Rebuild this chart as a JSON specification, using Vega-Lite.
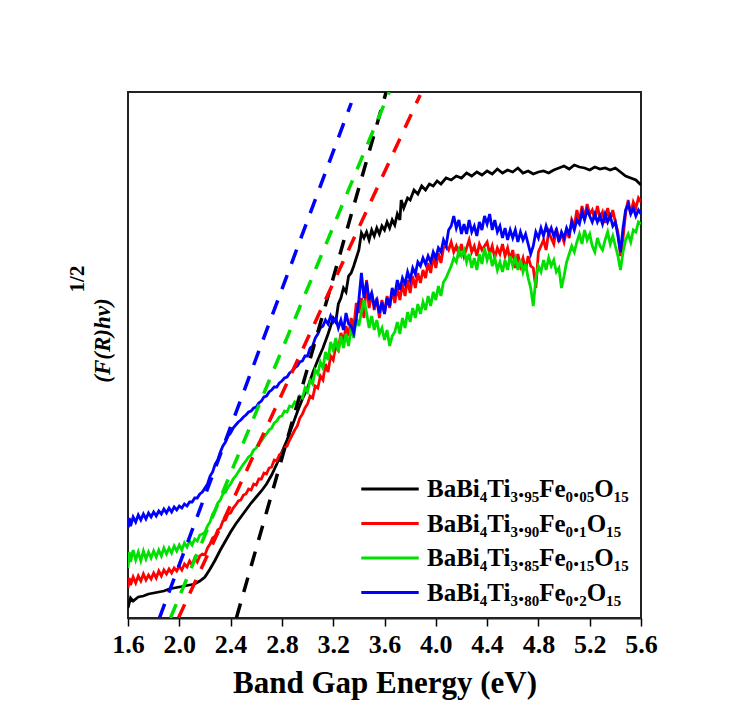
{
  "$schema": "https://vega.github.io/schema/vega-lite/v6.json",
  "width": 513,
  "height": 526,
  "autosize": "none",
  "padding": {"left": 128, "top": 92, "right": 115, "bottom": 86},
  "background": "white",
  "config": {"view": {"stroke": "#222", "strokeWidth": 2}, "font": "Liberation Serif"},
  "title": {"text": "1/2", "orient": "left", "anchor": "middle", "frame": "group", "dx": 76, "offset": 3, "font": "Liberation Serif", "fontSize": 21, "fontWeight": "bold", "color": "black"},
  "datasets": {
    "curves": [
      {"s":"A","x":1.60,"y":10},{"s":"A","x":1.62,"y":20},{"s":"A","x":1.64,"y":17},{"s":"A","x":1.68,"y":21},{"s":"A","x":1.72,"y":22},{"s":"A","x":1.76,"y":24},{"s":"A","x":1.80,"y":25},{"s":"A","x":1.84,"y":26},{"s":"A","x":1.88,"y":27},{"s":"A","x":1.92,"y":29},{"s":"A","x":1.96,"y":30},{"s":"A","x":2.00,"y":31},{"s":"A","x":2.04,"y":32},{"s":"A","x":2.08,"y":33},{"s":"A","x":2.12,"y":34},{"s":"A","x":2.16,"y":37},{"s":"A","x":2.20,"y":41},{"s":"A","x":2.24,"y":49},{"s":"A","x":2.28,"y":58},{"s":"A","x":2.32,"y":68},{"s":"A","x":2.36,"y":77},{"s":"A","x":2.40,"y":86},{"s":"A","x":2.44,"y":94},{"s":"A","x":2.48,"y":101},{"s":"A","x":2.52,"y":108},{"s":"A","x":2.56,"y":115},{"s":"A","x":2.60,"y":121},{"s":"A","x":2.64,"y":127},{"s":"A","x":2.68,"y":134},{"s":"A","x":2.72,"y":143},{"s":"A","x":2.76,"y":154},{"s":"A","x":2.80,"y":166},{"s":"A","x":2.84,"y":178},{"s":"A","x":2.88,"y":192},{"s":"A","x":2.92,"y":206},{"s":"A","x":2.96,"y":219},{"s":"A","x":3.00,"y":230},{"s":"A","x":3.04,"y":245},{"s":"A","x":3.08,"y":258},{"s":"A","x":3.12,"y":270},{"s":"A","x":3.16,"y":284},{"s":"A","x":3.20,"y":300},{"s":"A","x":3.22,"y":296},{"s":"A","x":3.24,"y":314},{"s":"A","x":3.26,"y":320},{"s":"A","x":3.28,"y":330},{"s":"A","x":3.30,"y":326},{"s":"A","x":3.32,"y":342},{"s":"A","x":3.34,"y":345},{"s":"A","x":3.36,"y":352},{"s":"A","x":3.38,"y":360},{"s":"A","x":3.40,"y":368},{"s":"A","x":3.42,"y":385},{"s":"A","x":3.44,"y":380},{"s":"A","x":3.46,"y":386},{"s":"A","x":3.48,"y":378},{"s":"A","x":3.50,"y":388},{"s":"A","x":3.52,"y":382},{"s":"A","x":3.54,"y":390},{"s":"A","x":3.56,"y":384},{"s":"A","x":3.58,"y":392},{"s":"A","x":3.60,"y":388},{"s":"A","x":3.62,"y":396},{"s":"A","x":3.64,"y":390},{"s":"A","x":3.66,"y":398},{"s":"A","x":3.68,"y":393},{"s":"A","x":3.70,"y":404},{"s":"A","x":3.72,"y":398},{"s":"A","x":3.73,"y":418},{"s":"A","x":3.75,"y":410},{"s":"A","x":3.78,"y":420},{"s":"A","x":3.80,"y":418},{"s":"A","x":3.83,"y":428},{"s":"A","x":3.86,"y":424},{"s":"A","x":3.89,"y":432},{"s":"A","x":3.92,"y":428},{"s":"A","x":3.95,"y":434},{"s":"A","x":3.98,"y":432},{"s":"A","x":4.01,"y":437},{"s":"A","x":4.04,"y":434},{"s":"A","x":4.08,"y":440},{"s":"A","x":4.12,"y":438},{"s":"A","x":4.16,"y":442},{"s":"A","x":4.20,"y":440},{"s":"A","x":4.24,"y":445},{"s":"A","x":4.28,"y":442},{"s":"A","x":4.32,"y":446},{"s":"A","x":4.36,"y":443},{"s":"A","x":4.40,"y":447},{"s":"A","x":4.44,"y":444},{"s":"A","x":4.48,"y":449},{"s":"A","x":4.52,"y":445},{"s":"A","x":4.56,"y":448},{"s":"A","x":4.60,"y":446},{"s":"A","x":4.64,"y":450},{"s":"A","x":4.68,"y":445},{"s":"A","x":4.72,"y":447},{"s":"A","x":4.76,"y":444},{"s":"A","x":4.80,"y":446},{"s":"A","x":4.84,"y":447},{"s":"A","x":4.88,"y":445},{"s":"A","x":4.92,"y":448},{"s":"A","x":4.96,"y":450},{"s":"A","x":5.00,"y":452},{"s":"A","x":5.04,"y":449},{"s":"A","x":5.08,"y":453},{"s":"A","x":5.12,"y":451},{"s":"A","x":5.16,"y":450},{"s":"A","x":5.20,"y":448},{"s":"A","x":5.24,"y":451},{"s":"A","x":5.28,"y":449},{"s":"A","x":5.32,"y":450},{"s":"A","x":5.36,"y":448},{"s":"A","x":5.40,"y":450},{"s":"A","x":5.44,"y":446},{"s":"A","x":5.48,"y":442},{"s":"A","x":5.52,"y":440},{"s":"A","x":5.56,"y":438},{"s":"A","x":5.60,"y":433},
      {"s":"B","x":1.60,"y":30},{"s":"B","x":1.61,"y":40},{"s":"B","x":1.62,"y":33},{"s":"B","x":1.64,"y":41},{"s":"B","x":1.66,"y":35},{"s":"B","x":1.68,"y":42},{"s":"B","x":1.70,"y":37},{"s":"B","x":1.72,"y":44},{"s":"B","x":1.74,"y":38},{"s":"B","x":1.76,"y":43},{"s":"B","x":1.78,"y":39},{"s":"B","x":1.80,"y":45},{"s":"B","x":1.82,"y":40},{"s":"B","x":1.84,"y":47},{"s":"B","x":1.86,"y":42},{"s":"B","x":1.88,"y":48},{"s":"B","x":1.90,"y":44},{"s":"B","x":1.92,"y":49},{"s":"B","x":1.94,"y":45},{"s":"B","x":1.96,"y":50},{"s":"B","x":1.98,"y":47},{"s":"B","x":2.00,"y":52},{"s":"B","x":2.02,"y":48},{"s":"B","x":2.04,"y":54},{"s":"B","x":2.06,"y":51},{"s":"B","x":2.08,"y":57},{"s":"B","x":2.10,"y":53},{"s":"B","x":2.12,"y":60},{"s":"B","x":2.14,"y":56},{"s":"B","x":2.16,"y":62},{"s":"B","x":2.18,"y":64},{"s":"B","x":2.20,"y":63},{"s":"B","x":2.22,"y":70},{"s":"B","x":2.24,"y":74},{"s":"B","x":2.26,"y":80},{"s":"B","x":2.28,"y":82},{"s":"B","x":2.30,"y":88},{"s":"B","x":2.32,"y":90},{"s":"B","x":2.34,"y":97},{"s":"B","x":2.36,"y":98},{"s":"B","x":2.38,"y":104},{"s":"B","x":2.40,"y":105},{"s":"B","x":2.42,"y":110},{"s":"B","x":2.44,"y":113},{"s":"B","x":2.46,"y":117},{"s":"B","x":2.48,"y":118},{"s":"B","x":2.50,"y":123},{"s":"B","x":2.52,"y":124},{"s":"B","x":2.54,"y":129},{"s":"B","x":2.56,"y":128},{"s":"B","x":2.58,"y":134},{"s":"B","x":2.60,"y":133},{"s":"B","x":2.62,"y":139},{"s":"B","x":2.64,"y":139},{"s":"B","x":2.66,"y":145},{"s":"B","x":2.68,"y":144},{"s":"B","x":2.70,"y":150},{"s":"B","x":2.72,"y":151},{"s":"B","x":2.74,"y":158},{"s":"B","x":2.76,"y":157},{"s":"B","x":2.78,"y":163},{"s":"B","x":2.80,"y":165},{"s":"B","x":2.82,"y":170},{"s":"B","x":2.84,"y":172},{"s":"B","x":2.86,"y":178},{"s":"B","x":2.88,"y":183},{"s":"B","x":2.90,"y":188},{"s":"B","x":2.92,"y":192},{"s":"B","x":2.94,"y":200},{"s":"B","x":2.96,"y":204},{"s":"B","x":2.98,"y":210},{"s":"B","x":3.00,"y":214},{"s":"B","x":3.02,"y":222},{"s":"B","x":3.04,"y":220},{"s":"B","x":3.06,"y":232},{"s":"B","x":3.08,"y":230},{"s":"B","x":3.10,"y":242},{"s":"B","x":3.12,"y":238},{"s":"B","x":3.14,"y":254},{"s":"B","x":3.16,"y":246},{"s":"B","x":3.18,"y":262},{"s":"B","x":3.20,"y":258},{"s":"B","x":3.22,"y":272},{"s":"B","x":3.24,"y":268},{"s":"B","x":3.26,"y":285},{"s":"B","x":3.28,"y":276},{"s":"B","x":3.30,"y":292},{"s":"B","x":3.32,"y":282},{"s":"B","x":3.34,"y":300},{"s":"B","x":3.36,"y":290},{"s":"B","x":3.38,"y":315},{"s":"B","x":3.40,"y":305},{"s":"B","x":3.42,"y":320},{"s":"B","x":3.44,"y":300},{"s":"B","x":3.46,"y":338},{"s":"B","x":3.48,"y":310},{"s":"B","x":3.50,"y":325},{"s":"B","x":3.52,"y":308},{"s":"B","x":3.54,"y":320},{"s":"B","x":3.56,"y":300},{"s":"B","x":3.58,"y":318},{"s":"B","x":3.60,"y":305},{"s":"B","x":3.62,"y":322},{"s":"B","x":3.64,"y":310},{"s":"B","x":3.66,"y":328},{"s":"B","x":3.68,"y":315},{"s":"B","x":3.70,"y":330},{"s":"B","x":3.72,"y":318},{"s":"B","x":3.74,"y":334},{"s":"B","x":3.76,"y":322},{"s":"B","x":3.78,"y":338},{"s":"B","x":3.80,"y":325},{"s":"B","x":3.82,"y":342},{"s":"B","x":3.84,"y":330},{"s":"B","x":3.86,"y":345},{"s":"B","x":3.88,"y":335},{"s":"B","x":3.90,"y":348},{"s":"B","x":3.92,"y":340},{"s":"B","x":3.94,"y":355},{"s":"B","x":3.96,"y":345},{"s":"B","x":3.98,"y":362},{"s":"B","x":4.00,"y":350},{"s":"B","x":4.02,"y":365},{"s":"B","x":4.04,"y":355},{"s":"B","x":4.06,"y":370},{"s":"B","x":4.08,"y":372},{"s":"B","x":4.10,"y":368},{"s":"B","x":4.12,"y":376},{"s":"B","x":4.14,"y":366},{"s":"B","x":4.16,"y":372},{"s":"B","x":4.18,"y":364},{"s":"B","x":4.20,"y":374},{"s":"B","x":4.22,"y":362},{"s":"B","x":4.24,"y":370},{"s":"B","x":4.26,"y":378},{"s":"B","x":4.28,"y":366},{"s":"B","x":4.30,"y":372},{"s":"B","x":4.32,"y":362},{"s":"B","x":4.34,"y":374},{"s":"B","x":4.36,"y":368},{"s":"B","x":4.40,"y":376},{"s":"B","x":4.42,"y":364},{"s":"B","x":4.44,"y":372},{"s":"B","x":4.46,"y":360},{"s":"B","x":4.48,"y":370},{"s":"B","x":4.50,"y":364},{"s":"B","x":4.52,"y":374},{"s":"B","x":4.54,"y":362},{"s":"B","x":4.56,"y":370},{"s":"B","x":4.58,"y":358},{"s":"B","x":4.60,"y":368},{"s":"B","x":4.62,"y":350},{"s":"B","x":4.64,"y":364},{"s":"B","x":4.66,"y":352},{"s":"B","x":4.68,"y":360},{"s":"B","x":4.70,"y":348},{"s":"B","x":4.72,"y":362},{"s":"B","x":4.74,"y":352},{"s":"B","x":4.76,"y":350},{"s":"B","x":4.78,"y":330},{"s":"B","x":4.80,"y":366},{"s":"B","x":4.82,"y":372},{"s":"B","x":4.84,"y":378},{"s":"B","x":4.86,"y":368},{"s":"B","x":4.88,"y":386},{"s":"B","x":4.90,"y":380},{"s":"B","x":4.92,"y":374},{"s":"B","x":4.94,"y":390},{"s":"B","x":4.96,"y":378},{"s":"B","x":4.98,"y":384},{"s":"B","x":5.00,"y":376},{"s":"B","x":5.02,"y":388},{"s":"B","x":5.04,"y":380},{"s":"B","x":5.06,"y":398},{"s":"B","x":5.08,"y":392},{"s":"B","x":5.10,"y":408},{"s":"B","x":5.12,"y":396},{"s":"B","x":5.14,"y":412},{"s":"B","x":5.16,"y":400},{"s":"B","x":5.18,"y":414},{"s":"B","x":5.20,"y":404},{"s":"B","x":5.22,"y":408},{"s":"B","x":5.24,"y":398},{"s":"B","x":5.26,"y":412},{"s":"B","x":5.28,"y":400},{"s":"B","x":5.30,"y":406},{"s":"B","x":5.32,"y":395},{"s":"B","x":5.34,"y":410},{"s":"B","x":5.36,"y":398},{"s":"B","x":5.38,"y":408},{"s":"B","x":5.40,"y":396},{"s":"B","x":5.42,"y":386},{"s":"B","x":5.44,"y":362},{"s":"B","x":5.46,"y":380},{"s":"B","x":5.48,"y":405},{"s":"B","x":5.50,"y":418},{"s":"B","x":5.52,"y":404},{"s":"B","x":5.54,"y":416},{"s":"B","x":5.56,"y":410},{"s":"B","x":5.58,"y":420},{"s":"B","x":5.60,"y":416},
      {"s":"C","x":1.60,"y":50},{"s":"C","x":1.61,"y":66},{"s":"C","x":1.62,"y":56},{"s":"C","x":1.64,"y":68},{"s":"C","x":1.66,"y":58},{"s":"C","x":1.68,"y":66},{"s":"C","x":1.70,"y":57},{"s":"C","x":1.72,"y":67},{"s":"C","x":1.74,"y":59},{"s":"C","x":1.76,"y":66},{"s":"C","x":1.78,"y":60},{"s":"C","x":1.80,"y":67},{"s":"C","x":1.82,"y":61},{"s":"C","x":1.84,"y":68},{"s":"C","x":1.86,"y":62},{"s":"C","x":1.88,"y":70},{"s":"C","x":1.90,"y":64},{"s":"C","x":1.92,"y":70},{"s":"C","x":1.94,"y":65},{"s":"C","x":1.96,"y":72},{"s":"C","x":1.98,"y":67},{"s":"C","x":2.00,"y":73},{"s":"C","x":2.02,"y":68},{"s":"C","x":2.04,"y":75},{"s":"C","x":2.06,"y":71},{"s":"C","x":2.08,"y":77},{"s":"C","x":2.10,"y":73},{"s":"C","x":2.12,"y":79},{"s":"C","x":2.14,"y":77},{"s":"C","x":2.16,"y":83},{"s":"C","x":2.18,"y":84},{"s":"C","x":2.20,"y":86},{"s":"C","x":2.22,"y":92},{"s":"C","x":2.24,"y":96},{"s":"C","x":2.26,"y":104},{"s":"C","x":2.28,"y":108},{"s":"C","x":2.30,"y":115},{"s":"C","x":2.32,"y":118},{"s":"C","x":2.34,"y":124},{"s":"C","x":2.36,"y":126},{"s":"C","x":2.38,"y":131},{"s":"C","x":2.40,"y":134},{"s":"C","x":2.42,"y":139},{"s":"C","x":2.44,"y":142},{"s":"C","x":2.46,"y":146},{"s":"C","x":2.48,"y":150},{"s":"C","x":2.50,"y":154},{"s":"C","x":2.52,"y":157},{"s":"C","x":2.54,"y":161},{"s":"C","x":2.56,"y":163},{"s":"C","x":2.58,"y":168},{"s":"C","x":2.60,"y":170},{"s":"C","x":2.62,"y":175},{"s":"C","x":2.64,"y":177},{"s":"C","x":2.66,"y":181},{"s":"C","x":2.68,"y":184},{"s":"C","x":2.70,"y":188},{"s":"C","x":2.72,"y":190},{"s":"C","x":2.74,"y":195},{"s":"C","x":2.76,"y":197},{"s":"C","x":2.78,"y":201},{"s":"C","x":2.80,"y":202},{"s":"C","x":2.82,"y":207},{"s":"C","x":2.84,"y":206},{"s":"C","x":2.86,"y":212},{"s":"C","x":2.88,"y":211},{"s":"C","x":2.90,"y":216},{"s":"C","x":2.92,"y":214},{"s":"C","x":2.94,"y":222},{"s":"C","x":2.96,"y":220},{"s":"C","x":2.98,"y":230},{"s":"C","x":3.00,"y":226},{"s":"C","x":3.02,"y":238},{"s":"C","x":3.04,"y":234},{"s":"C","x":3.06,"y":248},{"s":"C","x":3.08,"y":244},{"s":"C","x":3.10,"y":256},{"s":"C","x":3.12,"y":250},{"s":"C","x":3.14,"y":266},{"s":"C","x":3.16,"y":258},{"s":"C","x":3.18,"y":276},{"s":"C","x":3.20,"y":268},{"s":"C","x":3.22,"y":280},{"s":"C","x":3.24,"y":266},{"s":"C","x":3.26,"y":282},{"s":"C","x":3.28,"y":270},{"s":"C","x":3.30,"y":284},{"s":"C","x":3.32,"y":272},{"s":"C","x":3.34,"y":290},{"s":"C","x":3.36,"y":280},{"s":"C","x":3.38,"y":300},{"s":"C","x":3.40,"y":292},{"s":"C","x":3.42,"y":306},{"s":"C","x":3.44,"y":318},{"s":"C","x":3.46,"y":305},{"s":"C","x":3.48,"y":290},{"s":"C","x":3.50,"y":302},{"s":"C","x":3.52,"y":288},{"s":"C","x":3.54,"y":298},{"s":"C","x":3.56,"y":284},{"s":"C","x":3.58,"y":290},{"s":"C","x":3.60,"y":278},{"s":"C","x":3.62,"y":288},{"s":"C","x":3.64,"y":272},{"s":"C","x":3.66,"y":282},{"s":"C","x":3.68,"y":286},{"s":"C","x":3.70,"y":296},{"s":"C","x":3.72,"y":284},{"s":"C","x":3.74,"y":300},{"s":"C","x":3.76,"y":290},{"s":"C","x":3.78,"y":306},{"s":"C","x":3.80,"y":296},{"s":"C","x":3.82,"y":310},{"s":"C","x":3.84,"y":300},{"s":"C","x":3.86,"y":314},{"s":"C","x":3.88,"y":304},{"s":"C","x":3.90,"y":316},{"s":"C","x":3.92,"y":308},{"s":"C","x":3.94,"y":322},{"s":"C","x":3.96,"y":312},{"s":"C","x":3.98,"y":326},{"s":"C","x":4.00,"y":318},{"s":"C","x":4.02,"y":332},{"s":"C","x":4.04,"y":322},{"s":"C","x":4.06,"y":336},{"s":"C","x":4.08,"y":340},{"s":"C","x":4.10,"y":346},{"s":"C","x":4.12,"y":352},{"s":"C","x":4.14,"y":360},{"s":"C","x":4.16,"y":356},{"s":"C","x":4.18,"y":368},{"s":"C","x":4.20,"y":362},{"s":"C","x":4.22,"y":368},{"s":"C","x":4.24,"y":356},{"s":"C","x":4.26,"y":364},{"s":"C","x":4.28,"y":350},{"s":"C","x":4.30,"y":360},{"s":"C","x":4.32,"y":348},{"s":"C","x":4.34,"y":364},{"s":"C","x":4.36,"y":354},{"s":"C","x":4.38,"y":370},{"s":"C","x":4.40,"y":358},{"s":"C","x":4.42,"y":366},{"s":"C","x":4.44,"y":352},{"s":"C","x":4.46,"y":360},{"s":"C","x":4.48,"y":348},{"s":"C","x":4.50,"y":356},{"s":"C","x":4.52,"y":346},{"s":"C","x":4.54,"y":358},{"s":"C","x":4.56,"y":348},{"s":"C","x":4.58,"y":362},{"s":"C","x":4.60,"y":352},{"s":"C","x":4.62,"y":360},{"s":"C","x":4.64,"y":348},{"s":"C","x":4.66,"y":358},{"s":"C","x":4.68,"y":346},{"s":"C","x":4.70,"y":354},{"s":"C","x":4.72,"y":340},{"s":"C","x":4.74,"y":330},{"s":"C","x":4.76,"y":312},{"s":"C","x":4.78,"y":340},{"s":"C","x":4.80,"y":352},{"s":"C","x":4.82,"y":346},{"s":"C","x":4.84,"y":358},{"s":"C","x":4.86,"y":348},{"s":"C","x":4.88,"y":360},{"s":"C","x":4.90,"y":352},{"s":"C","x":4.92,"y":358},{"s":"C","x":4.94,"y":346},{"s":"C","x":4.96,"y":350},{"s":"C","x":4.98,"y":330},{"s":"C","x":5.00,"y":342},{"s":"C","x":5.02,"y":356},{"s":"C","x":5.04,"y":364},{"s":"C","x":5.06,"y":372},{"s":"C","x":5.08,"y":366},{"s":"C","x":5.10,"y":376},{"s":"C","x":5.12,"y":384},{"s":"C","x":5.14,"y":374},{"s":"C","x":5.16,"y":388},{"s":"C","x":5.18,"y":378},{"s":"C","x":5.20,"y":384},{"s":"C","x":5.22,"y":372},{"s":"C","x":5.24,"y":366},{"s":"C","x":5.26,"y":380},{"s":"C","x":5.28,"y":372},{"s":"C","x":5.30,"y":368},{"s":"C","x":5.32,"y":378},{"s":"C","x":5.34,"y":386},{"s":"C","x":5.36,"y":374},{"s":"C","x":5.38,"y":382},{"s":"C","x":5.40,"y":372},{"s":"C","x":5.42,"y":362},{"s":"C","x":5.44,"y":348},{"s":"C","x":5.46,"y":366},{"s":"C","x":5.48,"y":378},{"s":"C","x":5.50,"y":384},{"s":"C","x":5.52,"y":376},{"s":"C","x":5.54,"y":388},{"s":"C","x":5.56,"y":386},{"s":"C","x":5.58,"y":396},{"s":"C","x":5.60,"y":394},
      {"s":"D","x":1.60,"y":90},{"s":"D","x":1.61,"y":100},{"s":"D","x":1.62,"y":92},{"s":"D","x":1.64,"y":101},{"s":"D","x":1.66,"y":96},{"s":"D","x":1.68,"y":103},{"s":"D","x":1.70,"y":98},{"s":"D","x":1.72,"y":104},{"s":"D","x":1.74,"y":99},{"s":"D","x":1.76,"y":105},{"s":"D","x":1.78,"y":101},{"s":"D","x":1.80,"y":106},{"s":"D","x":1.82,"y":102},{"s":"D","x":1.84,"y":107},{"s":"D","x":1.86,"y":104},{"s":"D","x":1.88,"y":109},{"s":"D","x":1.90,"y":105},{"s":"D","x":1.92,"y":110},{"s":"D","x":1.94,"y":106},{"s":"D","x":1.96,"y":111},{"s":"D","x":1.98,"y":108},{"s":"D","x":2.00,"y":112},{"s":"D","x":2.02,"y":110},{"s":"D","x":2.04,"y":114},{"s":"D","x":2.06,"y":112},{"s":"D","x":2.08,"y":116},{"s":"D","x":2.10,"y":116},{"s":"D","x":2.12,"y":120},{"s":"D","x":2.14,"y":120},{"s":"D","x":2.16,"y":124},{"s":"D","x":2.18,"y":126},{"s":"D","x":2.20,"y":130},{"s":"D","x":2.22,"y":134},{"s":"D","x":2.24,"y":142},{"s":"D","x":2.26,"y":146},{"s":"D","x":2.28,"y":154},{"s":"D","x":2.30,"y":158},{"s":"D","x":2.32,"y":166},{"s":"D","x":2.34,"y":172},{"s":"D","x":2.36,"y":176},{"s":"D","x":2.38,"y":182},{"s":"D","x":2.40,"y":185},{"s":"D","x":2.42,"y":190},{"s":"D","x":2.44,"y":193},{"s":"D","x":2.46,"y":196},{"s":"D","x":2.48,"y":198},{"s":"D","x":2.50,"y":201},{"s":"D","x":2.52,"y":203},{"s":"D","x":2.54,"y":206},{"s":"D","x":2.56,"y":207},{"s":"D","x":2.58,"y":210},{"s":"D","x":2.60,"y":211},{"s":"D","x":2.62,"y":215},{"s":"D","x":2.64,"y":217},{"s":"D","x":2.66,"y":221},{"s":"D","x":2.68,"y":222},{"s":"D","x":2.70,"y":226},{"s":"D","x":2.72,"y":228},{"s":"D","x":2.74,"y":231},{"s":"D","x":2.76,"y":231},{"s":"D","x":2.78,"y":235},{"s":"D","x":2.80,"y":237},{"s":"D","x":2.82,"y":240},{"s":"D","x":2.84,"y":241},{"s":"D","x":2.86,"y":245},{"s":"D","x":2.88,"y":247},{"s":"D","x":2.90,"y":250},{"s":"D","x":2.92,"y":252},{"s":"D","x":2.94,"y":256},{"s":"D","x":2.96,"y":257},{"s":"D","x":2.98,"y":262},{"s":"D","x":3.00,"y":262},{"s":"D","x":3.02,"y":270},{"s":"D","x":3.04,"y":272},{"s":"D","x":3.06,"y":280},{"s":"D","x":3.08,"y":284},{"s":"D","x":3.10,"y":290},{"s":"D","x":3.12,"y":292},{"s":"D","x":3.14,"y":298},{"s":"D","x":3.16,"y":294},{"s":"D","x":3.18,"y":302},{"s":"D","x":3.20,"y":296},{"s":"D","x":3.22,"y":300},{"s":"D","x":3.24,"y":290},{"s":"D","x":3.26,"y":298},{"s":"D","x":3.28,"y":288},{"s":"D","x":3.30,"y":305},{"s":"D","x":3.32,"y":294},{"s":"D","x":3.34,"y":292},{"s":"D","x":3.36,"y":285},{"s":"D","x":3.38,"y":300},{"s":"D","x":3.40,"y":318},{"s":"D","x":3.42,"y":345},{"s":"D","x":3.44,"y":320},{"s":"D","x":3.46,"y":336},{"s":"D","x":3.48,"y":318},{"s":"D","x":3.50,"y":325},{"s":"D","x":3.52,"y":312},{"s":"D","x":3.54,"y":318},{"s":"D","x":3.56,"y":305},{"s":"D","x":3.58,"y":316},{"s":"D","x":3.60,"y":304},{"s":"D","x":3.62,"y":320},{"s":"D","x":3.64,"y":312},{"s":"D","x":3.66,"y":330},{"s":"D","x":3.68,"y":322},{"s":"D","x":3.70,"y":338},{"s":"D","x":3.72,"y":328},{"s":"D","x":3.74,"y":340},{"s":"D","x":3.76,"y":334},{"s":"D","x":3.78,"y":346},{"s":"D","x":3.80,"y":338},{"s":"D","x":3.82,"y":350},{"s":"D","x":3.84,"y":344},{"s":"D","x":3.86,"y":356},{"s":"D","x":3.88,"y":352},{"s":"D","x":3.90,"y":360},{"s":"D","x":3.92,"y":354},{"s":"D","x":3.94,"y":362},{"s":"D","x":3.96,"y":356},{"s":"D","x":3.98,"y":366},{"s":"D","x":4.00,"y":360},{"s":"D","x":4.02,"y":370},{"s":"D","x":4.04,"y":366},{"s":"D","x":4.06,"y":378},{"s":"D","x":4.08,"y":372},{"s":"D","x":4.10,"y":388},{"s":"D","x":4.12,"y":392},{"s":"D","x":4.14,"y":402},{"s":"D","x":4.16,"y":390},{"s":"D","x":4.18,"y":398},{"s":"D","x":4.20,"y":384},{"s":"D","x":4.22,"y":394},{"s":"D","x":4.24,"y":384},{"s":"D","x":4.26,"y":398},{"s":"D","x":4.28,"y":386},{"s":"D","x":4.30,"y":392},{"s":"D","x":4.32,"y":382},{"s":"D","x":4.34,"y":396},{"s":"D","x":4.36,"y":388},{"s":"D","x":4.38,"y":402},{"s":"D","x":4.40,"y":394},{"s":"D","x":4.42,"y":404},{"s":"D","x":4.44,"y":388},{"s":"D","x":4.46,"y":398},{"s":"D","x":4.48,"y":386},{"s":"D","x":4.50,"y":392},{"s":"D","x":4.52,"y":380},{"s":"D","x":4.54,"y":390},{"s":"D","x":4.56,"y":378},{"s":"D","x":4.58,"y":388},{"s":"D","x":4.60,"y":380},{"s":"D","x":4.62,"y":388},{"s":"D","x":4.64,"y":376},{"s":"D","x":4.66,"y":386},{"s":"D","x":4.68,"y":378},{"s":"D","x":4.70,"y":384},{"s":"D","x":4.72,"y":374},{"s":"D","x":4.74,"y":364},{"s":"D","x":4.76,"y":372},{"s":"D","x":4.78,"y":386},{"s":"D","x":4.80,"y":380},{"s":"D","x":4.82,"y":390},{"s":"D","x":4.84,"y":382},{"s":"D","x":4.86,"y":392},{"s":"D","x":4.88,"y":384},{"s":"D","x":4.90,"y":390},{"s":"D","x":4.92,"y":382},{"s":"D","x":4.94,"y":388},{"s":"D","x":4.96,"y":376},{"s":"D","x":4.98,"y":386},{"s":"D","x":5.00,"y":380},{"s":"D","x":5.02,"y":390},{"s":"D","x":5.04,"y":384},{"s":"D","x":5.06,"y":396},{"s":"D","x":5.08,"y":388},{"s":"D","x":5.10,"y":398},{"s":"D","x":5.12,"y":394},{"s":"D","x":5.14,"y":406},{"s":"D","x":5.16,"y":398},{"s":"D","x":5.18,"y":408},{"s":"D","x":5.20,"y":402},{"s":"D","x":5.22,"y":396},{"s":"D","x":5.24,"y":404},{"s":"D","x":5.26,"y":396},{"s":"D","x":5.28,"y":402},{"s":"D","x":5.30,"y":394},{"s":"D","x":5.32,"y":404},{"s":"D","x":5.34,"y":396},{"s":"D","x":5.36,"y":402},{"s":"D","x":5.38,"y":392},{"s":"D","x":5.40,"y":396},{"s":"D","x":5.42,"y":382},{"s":"D","x":5.44,"y":366},{"s":"D","x":5.46,"y":390},{"s":"D","x":5.48,"y":408},{"s":"D","x":5.50,"y":414},{"s":"D","x":5.52,"y":404},{"s":"D","x":5.54,"y":410},{"s":"D","x":5.56,"y":402},{"s":"D","x":5.58,"y":408},{"s":"D","x":5.60,"y":404}
    ],
    "fits": [
      {"s":"A","x":2.445,"y":0},{"s":"A","x":3.613,"y":526},
      {"s":"B","x":1.993,"y":0},{"s":"B","x":3.878,"y":523},
      {"s":"C","x":1.931,"y":0},{"s":"C","x":3.637,"y":526},
      {"s":"D","x":1.845,"y":0},{"s":"D","x":3.341,"y":515}
    ]
  },
  "layer": [
    {
      "data": {"name": "curves"},
      "mark": {"type": "line", "strokeWidth": 2.8, "clip": true},
      "encoding": {
        "x": {"field": "x", "type": "quantitative", "scale": {"domain": [1.6, 5.6], "nice": false, "zero": false},
          "axis": {"values": [1.6, 2.0, 2.4, 2.8, 3.2, 3.6, 4.0, 4.4, 4.8, 5.2, 5.6], "format": ".1f", "title": "Band Gap Energy (eV)", "titleFont": "Liberation Serif", "titleFontSize": 31, "titleFontWeight": "bold", "titleColor": "black", "labelFont": "Liberation Serif", "labelFontSize": 26, "labelFontWeight": "bold", "labelColor": "black", "tickColor": "black", "tickSize": 8, "tickWidth": 1.5, "domainColor": "#222", "domainWidth": 2, "grid": false, "labelPadding": 5, "titlePadding": 11, "labelFlush": false, "labelOverlap": false}},
        "y": {"field": "y", "type": "quantitative", "scale": {"domain": [0, 526], "nice": false, "zero": false},
          "axis": {"title": "(F(R)hv)", "titleFont": "Liberation Serif", "titleFontSize": 23, "titleFontWeight": "bold", "titleFontStyle": "italic", "titleColor": "black", "labels": false, "ticks": false, "domain": false, "grid": false, "titlePadding": 14, "titleY": 248}},
        "color": {"field": "s", "type": "nominal", "sort": ["A", "B", "C", "D"],
          "scale": {"domain": ["A", "B", "C", "D"], "range": ["#000000", "#ff0000", "#00e000", "#0000ff"]},
          "legend": {"title": null, "orient": "bottom-right", "offset": 12, "symbolType": "M-2,0H2", "symbolStrokeWidth": 3, "symbolSize": 825, "labelFont": "Liberation Serif", "labelFontSize": 25, "labelFontWeight": "bold", "labelColor": "black", "labelLimit": 0, "labelOffset": 21, "rowPadding": 5.5,
            "labelExpr": "{'A': 'BaBi₄Ti₃.₉₅Fe₀.₀₅O₁₅', 'B': 'BaBi₄Ti₃.₉₀Fe₀.₁O₁₅', 'C': 'BaBi₄Ti₃.₈₅Fe₀.₁₅O₁₅', 'D': 'BaBi₄Ti₃.₈₀Fe₀.₂O₁₅'}[datum.label]"}}
      }
    },
    {
      "data": {"name": "fits"},
      "mark": {"type": "line", "strokeWidth": 3.5, "strokeDash": [15, 12], "clip": true},
      "encoding": {
        "x": {"field": "x", "type": "quantitative"},
        "y": {"field": "y", "type": "quantitative"},
        "color": {"field": "s", "type": "nominal", "legend": null}
      }
    }
  ]
}
